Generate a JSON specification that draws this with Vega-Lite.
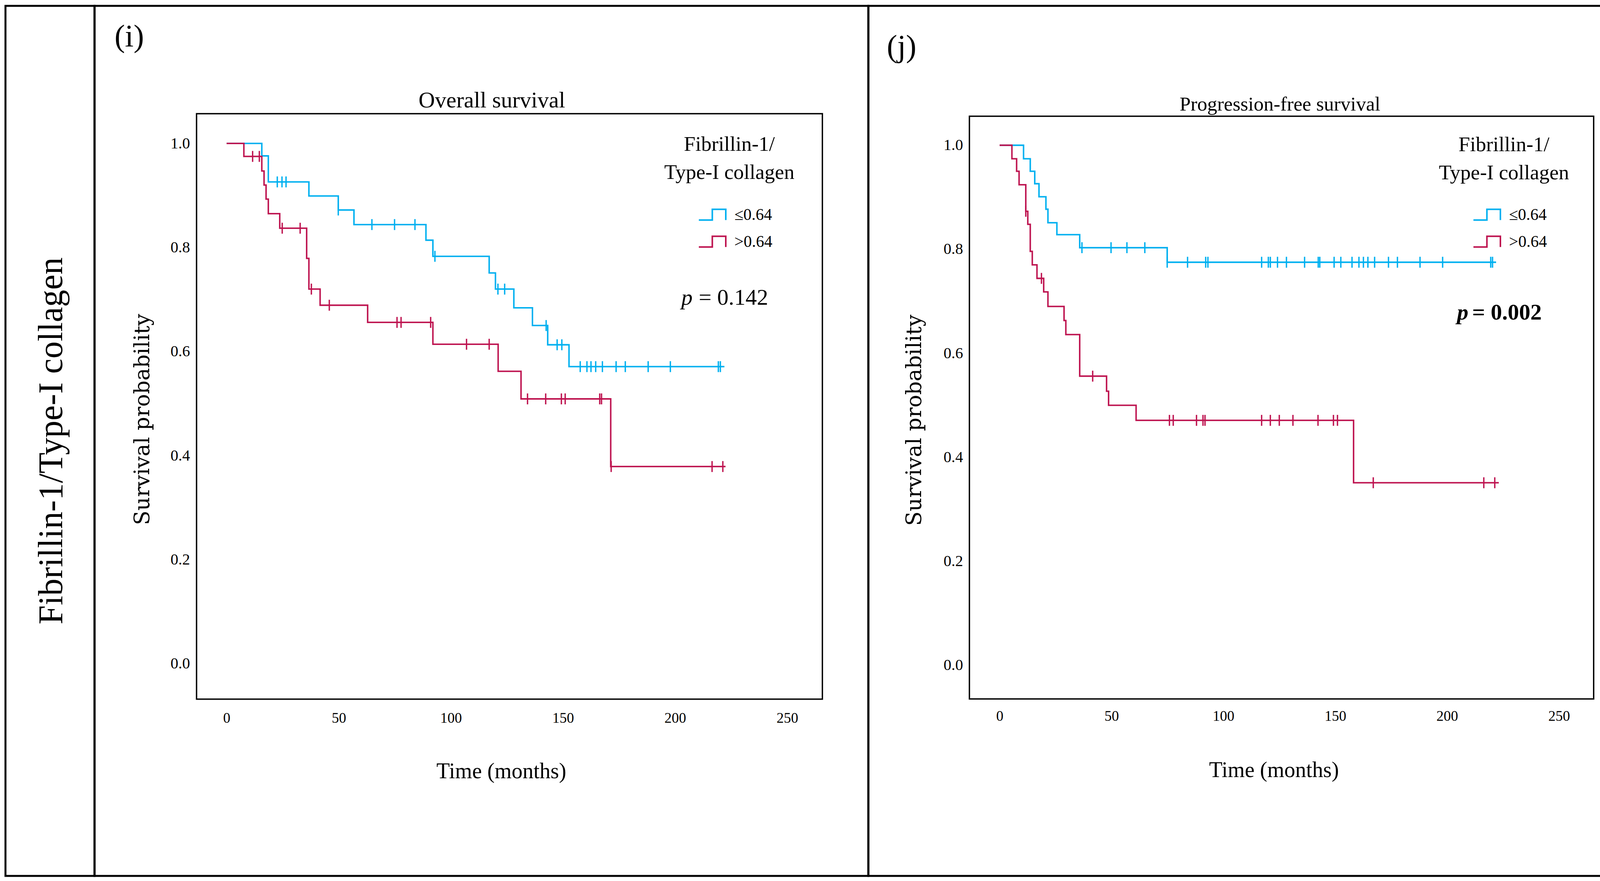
{
  "$schema": "https://vega.github.io/schema/vega-lite/v6.json",
  "background": "white",
  "padding": {"left": 11, "top": 12, "right": 5, "bottom": 5},
  "spacing": 0,
  "bounds": "flush",
  "resolve": {"legend": {"color": "independent"}},
  "config": {
    "view": {"stroke": "black", "strokeWidth": 5},
    "font": "Liberation Serif",
    "axis": {"domain": false, "ticks": false, "grid": false, "labelFont": "Liberation Serif", "labelFontSize": 40, "labelColor": "black", "titleColor": "black", "titleFontWeight": "normal"},
    "text": {"font": "Liberation Serif", "color": "black"}
  },
  "datasets": {
    "km": [
      {"p":"OS","g":"≤0.64","k":"step","t":0,"s":1.0},
      {"p":"OS","g":"≤0.64","k":"step","t":15.7,"s":0.976},
      {"p":"OS","g":"≤0.64","k":"step","t":18.6,"s":0.926},
      {"p":"OS","g":"≤0.64","k":"step","t":36.7,"s":0.899},
      {"p":"OS","g":"≤0.64","k":"step","t":49.8,"s":0.872},
      {"p":"OS","g":"≤0.64","k":"step","t":56.8,"s":0.844},
      {"p":"OS","g":"≤0.64","k":"step","t":88.9,"s":0.814},
      {"p":"OS","g":"≤0.64","k":"step","t":92.0,"s":0.783},
      {"p":"OS","g":"≤0.64","k":"step","t":117.1,"s":0.751},
      {"p":"OS","g":"≤0.64","k":"step","t":119.9,"s":0.720},
      {"p":"OS","g":"≤0.64","k":"step","t":128.1,"s":0.684},
      {"p":"OS","g":"≤0.64","k":"step","t":136.4,"s":0.650},
      {"p":"OS","g":"≤0.64","k":"step","t":143.2,"s":0.613},
      {"p":"OS","g":"≤0.64","k":"step","t":152.7,"s":0.571},
      {"p":"OS","g":"≤0.64","k":"step","t":222.0,"s":0.571},
      {"p":"OS","g":"≤0.64","k":"censor","t":22.6,"s":0.926},
      {"p":"OS","g":"≤0.64","k":"censor","t":24.7,"s":0.926},
      {"p":"OS","g":"≤0.64","k":"censor","t":26.5,"s":0.926},
      {"p":"OS","g":"≤0.64","k":"censor","t":49.8,"s":0.872},
      {"p":"OS","g":"≤0.64","k":"censor","t":64.8,"s":0.844},
      {"p":"OS","g":"≤0.64","k":"censor","t":74.9,"s":0.844},
      {"p":"OS","g":"≤0.64","k":"censor","t":84.0,"s":0.844},
      {"p":"OS","g":"≤0.64","k":"censor","t":92.9,"s":0.783},
      {"p":"OS","g":"≤0.64","k":"censor","t":121.0,"s":0.720},
      {"p":"OS","g":"≤0.64","k":"censor","t":124.0,"s":0.720},
      {"p":"OS","g":"≤0.64","k":"censor","t":142.5,"s":0.650},
      {"p":"OS","g":"≤0.64","k":"censor","t":147.4,"s":0.613},
      {"p":"OS","g":"≤0.64","k":"censor","t":149.5,"s":0.613},
      {"p":"OS","g":"≤0.64","k":"censor","t":157.7,"s":0.571},
      {"p":"OS","g":"≤0.64","k":"censor","t":160.7,"s":0.571},
      {"p":"OS","g":"≤0.64","k":"censor","t":162.5,"s":0.571},
      {"p":"OS","g":"≤0.64","k":"censor","t":164.6,"s":0.571},
      {"p":"OS","g":"≤0.64","k":"censor","t":167.6,"s":0.571},
      {"p":"OS","g":"≤0.64","k":"censor","t":173.7,"s":0.571},
      {"p":"OS","g":"≤0.64","k":"censor","t":177.8,"s":0.571},
      {"p":"OS","g":"≤0.64","k":"censor","t":188.0,"s":0.571},
      {"p":"OS","g":"≤0.64","k":"censor","t":197.9,"s":0.571},
      {"p":"OS","g":"≤0.64","k":"censor","t":219.3,"s":0.571},
      {"p":"OS","g":"≤0.64","k":"censor","t":220.2,"s":0.571},
      {"p":"OS","g":">0.64","k":"step","t":0,"s":1.0},
      {"p":"OS","g":">0.64","k":"step","t":7.7,"s":0.975},
      {"p":"OS","g":">0.64","k":"step","t":15.7,"s":0.947},
      {"p":"OS","g":">0.64","k":"step","t":16.7,"s":0.920},
      {"p":"OS","g":">0.64","k":"step","t":17.6,"s":0.893},
      {"p":"OS","g":">0.64","k":"step","t":18.6,"s":0.865},
      {"p":"OS","g":">0.64","k":"step","t":23.7,"s":0.837},
      {"p":"OS","g":">0.64","k":"step","t":35.7,"s":0.779},
      {"p":"OS","g":">0.64","k":"step","t":36.7,"s":0.720},
      {"p":"OS","g":">0.64","k":"step","t":41.7,"s":0.689},
      {"p":"OS","g":">0.64","k":"step","t":62.9,"s":0.656},
      {"p":"OS","g":">0.64","k":"step","t":92.0,"s":0.614},
      {"p":"OS","g":">0.64","k":"step","t":121.1,"s":0.562},
      {"p":"OS","g":">0.64","k":"step","t":131.3,"s":0.509},
      {"p":"OS","g":">0.64","k":"step","t":171.3,"s":0.379},
      {"p":"OS","g":">0.64","k":"step","t":222.5,"s":0.379},
      {"p":"OS","g":">0.64","k":"censor","t":11.6,"s":0.975},
      {"p":"OS","g":">0.64","k":"censor","t":14.6,"s":0.975},
      {"p":"OS","g":">0.64","k":"censor","t":24.8,"s":0.837},
      {"p":"OS","g":">0.64","k":"censor","t":32.8,"s":0.837},
      {"p":"OS","g":">0.64","k":"censor","t":37.8,"s":0.720},
      {"p":"OS","g":">0.64","k":"censor","t":45.8,"s":0.689},
      {"p":"OS","g":">0.64","k":"censor","t":76.0,"s":0.656},
      {"p":"OS","g":">0.64","k":"censor","t":77.8,"s":0.656},
      {"p":"OS","g":">0.64","k":"censor","t":91.0,"s":0.656},
      {"p":"OS","g":">0.64","k":"censor","t":107.0,"s":0.614},
      {"p":"OS","g":">0.64","k":"censor","t":117.1,"s":0.614},
      {"p":"OS","g":">0.64","k":"censor","t":134.2,"s":0.509},
      {"p":"OS","g":">0.64","k":"censor","t":142.3,"s":0.509},
      {"p":"OS","g":">0.64","k":"censor","t":149.3,"s":0.509},
      {"p":"OS","g":">0.64","k":"censor","t":151.0,"s":0.509},
      {"p":"OS","g":">0.64","k":"censor","t":166.4,"s":0.509},
      {"p":"OS","g":">0.64","k":"censor","t":167.2,"s":0.509},
      {"p":"OS","g":">0.64","k":"censor","t":171.5,"s":0.379},
      {"p":"OS","g":">0.64","k":"censor","t":216.5,"s":0.379},
      {"p":"OS","g":">0.64","k":"censor","t":221.3,"s":0.379},
      {"p":"PFS","g":"≤0.64","k":"step","t":0,"s":1.0},
      {"p":"PFS","g":"≤0.64","k":"step","t":10.7,"s":0.974},
      {"p":"PFS","g":"≤0.64","k":"step","t":13.7,"s":0.950},
      {"p":"PFS","g":"≤0.64","k":"step","t":15.7,"s":0.926},
      {"p":"PFS","g":"≤0.64","k":"step","t":17.6,"s":0.901},
      {"p":"PFS","g":"≤0.64","k":"step","t":20.7,"s":0.877},
      {"p":"PFS","g":"≤0.64","k":"step","t":21.6,"s":0.851},
      {"p":"PFS","g":"≤0.64","k":"step","t":25.6,"s":0.828},
      {"p":"PFS","g":"≤0.64","k":"step","t":35.8,"s":0.803},
      {"p":"PFS","g":"≤0.64","k":"step","t":74.9,"s":0.775},
      {"p":"PFS","g":"≤0.64","k":"step","t":221.9,"s":0.775},
      {"p":"PFS","g":"≤0.64","k":"censor","t":36.8,"s":0.803},
      {"p":"PFS","g":"≤0.64","k":"censor","t":49.8,"s":0.803},
      {"p":"PFS","g":"≤0.64","k":"censor","t":56.9,"s":0.803},
      {"p":"PFS","g":"≤0.64","k":"censor","t":64.9,"s":0.803},
      {"p":"PFS","g":"≤0.64","k":"censor","t":74.9,"s":0.775},
      {"p":"PFS","g":"≤0.64","k":"censor","t":84.0,"s":0.775},
      {"p":"PFS","g":"≤0.64","k":"censor","t":92.1,"s":0.775},
      {"p":"PFS","g":"≤0.64","k":"censor","t":93.1,"s":0.775},
      {"p":"PFS","g":"≤0.64","k":"censor","t":117.1,"s":0.775},
      {"p":"PFS","g":"≤0.64","k":"censor","t":120.1,"s":0.775},
      {"p":"PFS","g":"≤0.64","k":"censor","t":121.0,"s":0.775},
      {"p":"PFS","g":"≤0.64","k":"censor","t":124.2,"s":0.775},
      {"p":"PFS","g":"≤0.64","k":"censor","t":128.2,"s":0.775},
      {"p":"PFS","g":"≤0.64","k":"censor","t":136.3,"s":0.775},
      {"p":"PFS","g":"≤0.64","k":"censor","t":142.4,"s":0.775},
      {"p":"PFS","g":"≤0.64","k":"censor","t":143.1,"s":0.775},
      {"p":"PFS","g":"≤0.64","k":"censor","t":149.5,"s":0.775},
      {"p":"PFS","g":"≤0.64","k":"censor","t":152.5,"s":0.775},
      {"p":"PFS","g":"≤0.64","k":"censor","t":157.5,"s":0.775},
      {"p":"PFS","g":"≤0.64","k":"censor","t":160.6,"s":0.775},
      {"p":"PFS","g":"≤0.64","k":"censor","t":162.6,"s":0.775},
      {"p":"PFS","g":"≤0.64","k":"censor","t":164.6,"s":0.775},
      {"p":"PFS","g":"≤0.64","k":"censor","t":167.6,"s":0.775},
      {"p":"PFS","g":"≤0.64","k":"censor","t":173.8,"s":0.775},
      {"p":"PFS","g":"≤0.64","k":"censor","t":177.8,"s":0.775},
      {"p":"PFS","g":"≤0.64","k":"censor","t":187.9,"s":0.775},
      {"p":"PFS","g":"≤0.64","k":"censor","t":198.0,"s":0.775},
      {"p":"PFS","g":"≤0.64","k":"censor","t":219.5,"s":0.775},
      {"p":"PFS","g":"≤0.64","k":"censor","t":220.3,"s":0.775},
      {"p":"PFS","g":">0.64","k":"step","t":0,"s":1.0},
      {"p":"PFS","g":">0.64","k":"step","t":5.5,"s":0.974},
      {"p":"PFS","g":">0.64","k":"step","t":7.6,"s":0.950},
      {"p":"PFS","g":">0.64","k":"step","t":8.7,"s":0.924},
      {"p":"PFS","g":">0.64","k":"step","t":11.7,"s":0.873},
      {"p":"PFS","g":">0.64","k":"step","t":12.6,"s":0.848},
      {"p":"PFS","g":">0.64","k":"step","t":13.7,"s":0.796},
      {"p":"PFS","g":">0.64","k":"step","t":14.6,"s":0.770},
      {"p":"PFS","g":">0.64","k":"step","t":16.7,"s":0.744},
      {"p":"PFS","g":">0.64","k":"step","t":19.7,"s":0.718},
      {"p":"PFS","g":">0.64","k":"step","t":21.6,"s":0.690},
      {"p":"PFS","g":">0.64","k":"step","t":28.8,"s":0.663},
      {"p":"PFS","g":">0.64","k":"step","t":29.6,"s":0.636},
      {"p":"PFS","g":">0.64","k":"step","t":35.8,"s":0.556},
      {"p":"PFS","g":">0.64","k":"step","t":47.8,"s":0.527},
      {"p":"PFS","g":">0.64","k":"step","t":48.7,"s":0.500},
      {"p":"PFS","g":">0.64","k":"step","t":61.0,"s":0.471},
      {"p":"PFS","g":">0.64","k":"step","t":158.2,"s":0.351},
      {"p":"PFS","g":">0.64","k":"step","t":223.1,"s":0.351},
      {"p":"PFS","g":">0.64","k":"censor","t":11.7,"s":0.873},
      {"p":"PFS","g":">0.64","k":"censor","t":18.7,"s":0.744},
      {"p":"PFS","g":">0.64","k":"censor","t":41.6,"s":0.556},
      {"p":"PFS","g":">0.64","k":"censor","t":75.9,"s":0.471},
      {"p":"PFS","g":">0.64","k":"censor","t":77.6,"s":0.471},
      {"p":"PFS","g":">0.64","k":"censor","t":88.0,"s":0.471},
      {"p":"PFS","g":">0.64","k":"censor","t":90.9,"s":0.471},
      {"p":"PFS","g":">0.64","k":"censor","t":91.8,"s":0.471},
      {"p":"PFS","g":">0.64","k":"censor","t":117.1,"s":0.471},
      {"p":"PFS","g":">0.64","k":"censor","t":121.0,"s":0.471},
      {"p":"PFS","g":">0.64","k":"censor","t":125.0,"s":0.471},
      {"p":"PFS","g":">0.64","k":"censor","t":131.1,"s":0.471},
      {"p":"PFS","g":">0.64","k":"censor","t":142.3,"s":0.471},
      {"p":"PFS","g":">0.64","k":"censor","t":149.2,"s":0.471},
      {"p":"PFS","g":">0.64","k":"censor","t":151.0,"s":0.471},
      {"p":"PFS","g":">0.64","k":"censor","t":167.0,"s":0.351},
      {"p":"PFS","g":">0.64","k":"censor","t":216.4,"s":0.351},
      {"p":"PFS","g":">0.64","k":"censor","t":221.3,"s":0.351}
    ]
  },
  "hconcat": [
    {
      "width": 228,
      "height": 2227,
      "data": {"values": [{}]},
      "mark": {"type": "text", "text": "Fibrillin-1/Type-I collagen", "angle": 270, "fontSize": 88, "align": "center", "baseline": "alphabetic"},
      "encoding": {
        "x": {"datum": 0.636, "type": "quantitative", "scale": {"domain": [0, 1], "nice": false, "zero": false}, "axis": null},
        "y": {"datum": 0.5, "type": "quantitative", "scale": {"domain": [0, 1], "nice": false, "zero": false}, "axis": null}
      }
    },
    {
      "width": 1981,
      "height": 2227,
      "layer": [
        {
          "data": {"name": "km"},
          "transform": [{"filter": "datum.p === 'OS' && datum.k === 'step'"}],
          "mark": {"type": "line", "interpolate": "step-after", "strokeWidth": 3.8},
          "encoding": {
            "x": {"field": "t", "type": "quantitative", "scale": {"domain": [-58.9, 286.2], "nice": false, "zero": false},
              "axis": {"orient": "bottom", "offset": -452, "values": [0, 50, 100, 150, 200, 250], "labelFontSize": 37, "labelPadding": 30, "title": "Time (months)", "titleFont": "Liberation Serif", "titleFontSize": 56, "titleX": 1041, "titleY": 201, "titleBaseline": "alphabetic", "titleAlign": "center"}},
            "y": {"field": "s", "type": "quantitative", "scale": {"domain": [-0.4077, 1.2643], "nice": false, "zero": false},
              "axis": {"orient": "left", "offset": -261, "values": [0, 0.2, 0.4, 0.6, 0.8, 1.0], "format": ".1f", "labelPadding": 17, "title": "Survival probability", "titleFont": "DejaVu Serif", "titleFontSize": 54, "titleAngle": 270, "titleX": -122, "titleY": 1058, "titleBaseline": "alphabetic", "titleAlign": "center"}},
            "color": {"field": "g", "type": "nominal", "scale": {"domain": ["≤0.64", ">0.64"], "range": ["#00B0F0", "#BE1450"]},
              "legend": {"orient": "none", "legendX": 1545, "legendY": 498, "title": null, "symbolType": "M-1,0.4H0V-0.4H1V0.4", "symbolSize": 4761, "symbolStrokeWidth": 4, "symbolFillColor": "transparent", "labelFont": "Liberation Serif", "labelFontSize": 42, "labelColor": "black", "labelOffset": 20, "rowPadding": 10, "padding": 0,
                "encode": {"symbols": {"update": {"fill": {"value": "transparent"}, "strokeWidth": {"value": 4}}}}}}
          }
        },
        {
          "data": {"name": "km"},
          "transform": [{"filter": "datum.p === 'OS' && datum.k === 'censor'"}],
          "mark": {"type": "point", "shape": "M0,-1L0,1", "filled": false, "size": 784, "strokeWidth": 3.5, "opacity": 1},
          "encoding": {
            "x": {"field": "t", "type": "quantitative", "scale": {"domain": [-58.9, 286.2], "nice": false, "zero": false}},
            "y": {"field": "s", "type": "quantitative", "scale": {"domain": [-0.4077, 1.2643], "nice": false, "zero": false}},
            "color": {"field": "g", "type": "nominal", "legend": null}
          }
        },
        {
          "data": {"values": [{}]},
          "mark": {"type": "rect", "filled": false, "stroke": "black", "strokeWidth": 3.5},
          "encoding": {
            "x": {"datum": -13.4, "type": "quantitative", "scale": {"domain": [-58.9, 286.2], "nice": false, "zero": false}},
            "x2": {"datum": 265.7},
            "y": {"datum": -0.068, "type": "quantitative", "scale": {"domain": [-0.4077, 1.2643], "nice": false, "zero": false}},
            "y2": {"datum": 1.057}
          }
        },
        {
          "data": {"values": [{}]},
          "mark": {"type": "text", "text": "(i)", "fontSize": 80, "align": "center", "baseline": "alphabetic"},
          "encoding": {"x": {"datum": -43.4, "type": "quantitative"}, "y": {"datum": 1.186, "type": "quantitative"}}
        },
        {
          "data": {"values": [{}]},
          "mark": {"type": "text", "text": "Overall survival", "fontSize": 58, "align": "center", "baseline": "alphabetic"},
          "encoding": {"x": {"datum": 118.3, "type": "quantitative"}, "y": {"datum": 1.069, "type": "quantitative"}}
        },
        {
          "data": {"values": [{}]},
          "mark": {"type": "text", "text": "Fibrillin-1/\nType-I collagen", "lineBreak": "\n", "lineHeight": 72, "fontSize": 53, "align": "center", "baseline": "alphabetic"},
          "encoding": {"x": {"datum": 224.2, "type": "quantitative"}, "y": {"datum": 0.986, "type": "quantitative"}}
        },
        {
          "data": {"values": [{}]},
          "mark": {"type": "text", "text": "p", "fontStyle": "italic", "fontSize": 58, "align": "right", "baseline": "alphabetic"},
          "encoding": {"x": {"datum": 207.8, "type": "quantitative"}, "y": {"datum": 0.69, "type": "quantitative"}}
        },
        {
          "data": {"values": [{}]},
          "mark": {"type": "text", "text": "= 0.142", "fontSize": 58, "align": "right", "baseline": "alphabetic"},
          "encoding": {"x": {"datum": 241.5, "type": "quantitative"}, "y": {"datum": 0.69, "type": "quantitative"}}
        }
      ]
    },
    {
      "width": 1979,
      "height": 2227,
      "layer": [
        {
          "data": {"name": "km"},
          "transform": [{"filter": "datum.p === 'PFS' && datum.k === 'step'"}],
          "mark": {"type": "line", "interpolate": "step-after", "strokeWidth": 3.8},
          "encoding": {
            "x": {"field": "t", "type": "quantitative", "scale": {"domain": [-58.66, 286.84], "nice": false, "zero": false},
              "axis": {"orient": "bottom", "offset": -453, "values": [0, 50, 100, 150, 200, 250], "labelFontSize": 37, "labelPadding": 26, "title": "Time (months)", "titleFont": "Liberation Serif", "titleFontSize": 56, "titleX": 1038, "titleY": 199, "titleBaseline": "alphabetic", "titleAlign": "center"}},
            "y": {"field": "s", "type": "quantitative", "scale": {"domain": [-0.405, 1.268], "nice": false, "zero": false},
              "axis": {"orient": "left", "offset": -260, "values": [0, 0.2, 0.4, 0.6, 0.8, 1.0], "format": ".1f", "labelPadding": 18, "title": "Survival probability", "titleFont": "DejaVu Serif", "titleFontSize": 54, "titleAngle": 270, "titleX": -126, "titleY": 1060, "titleBaseline": "alphabetic", "titleAlign": "center"}},
            "color": {"field": "g", "type": "nominal", "scale": {"domain": ["≤0.64", ">0.64"], "range": ["#00B0F0", "#BE1450"]},
              "legend": {"orient": "none", "legendX": 1547, "legendY": 498, "title": null, "symbolType": "M-1,0.4H0V-0.4H1V0.4", "symbolSize": 4761, "symbolStrokeWidth": 4, "symbolFillColor": "transparent", "labelFont": "Liberation Serif", "labelFontSize": 42, "labelColor": "black", "labelOffset": 20, "rowPadding": 10, "padding": 0,
                "encode": {"symbols": {"update": {"fill": {"value": "transparent"}, "strokeWidth": {"value": 4}}}}}}
          }
        },
        {
          "data": {"name": "km"},
          "transform": [{"filter": "datum.p === 'PFS' && datum.k === 'censor'"}],
          "mark": {"type": "point", "shape": "M0,-1L0,1", "filled": false, "size": 784, "strokeWidth": 3.5, "opacity": 1},
          "encoding": {
            "x": {"field": "t", "type": "quantitative", "scale": {"domain": [-58.66, 286.84], "nice": false, "zero": false}},
            "y": {"field": "s", "type": "quantitative", "scale": {"domain": [-0.405, 1.268], "nice": false, "zero": false}},
            "color": {"field": "g", "type": "nominal", "legend": null}
          }
        },
        {
          "data": {"values": [{}]},
          "mark": {"type": "rect", "filled": false, "stroke": "black", "strokeWidth": 3.5},
          "encoding": {
            "x": {"datum": -13.5, "type": "quantitative", "scale": {"domain": [-58.66, 286.84], "nice": false, "zero": false}},
            "x2": {"datum": 265.5},
            "y": {"datum": -0.0646, "type": "quantitative", "scale": {"domain": [-0.405, 1.268], "nice": false, "zero": false}},
            "y2": {"datum": 1.0557}
          }
        },
        {
          "data": {"values": [{}]},
          "mark": {"type": "text", "text": "(j)", "fontSize": 80, "align": "center", "baseline": "alphabetic"},
          "encoding": {"x": {"datum": -43.8, "type": "quantitative"}, "y": {"datum": 1.170, "type": "quantitative"}}
        },
        {
          "data": {"values": [{}]},
          "mark": {"type": "text", "text": "Progression-free survival", "fontSize": 51, "align": "center", "baseline": "alphabetic"},
          "encoding": {"x": {"datum": 125.3, "type": "quantitative"}, "y": {"datum": 1.067, "type": "quantitative"}}
        },
        {
          "data": {"values": [{}]},
          "mark": {"type": "text", "text": "Fibrillin-1/\nType-I collagen", "lineBreak": "\n", "lineHeight": 72, "fontSize": 53, "align": "center", "baseline": "alphabetic"},
          "encoding": {"x": {"datum": 225.4, "type": "quantitative"}, "y": {"datum": 0.9885, "type": "quantitative"}}
        },
        {
          "data": {"values": [{}]},
          "mark": {"type": "text", "text": "p", "fontStyle": "italic", "fontWeight": "bold", "fontSize": 58, "align": "right", "baseline": "alphabetic"},
          "encoding": {"x": {"datum": 209.5, "type": "quantitative"}, "y": {"datum": 0.665, "type": "quantitative"}}
        },
        {
          "data": {"values": [{}]},
          "mark": {"type": "text", "text": "= 0.002", "fontWeight": "bold", "fontSize": 58, "align": "right", "baseline": "alphabetic"},
          "encoding": {"x": {"datum": 242.3, "type": "quantitative"}, "y": {"datum": 0.665, "type": "quantitative"}}
        }
      ]
    }
  ]
}
